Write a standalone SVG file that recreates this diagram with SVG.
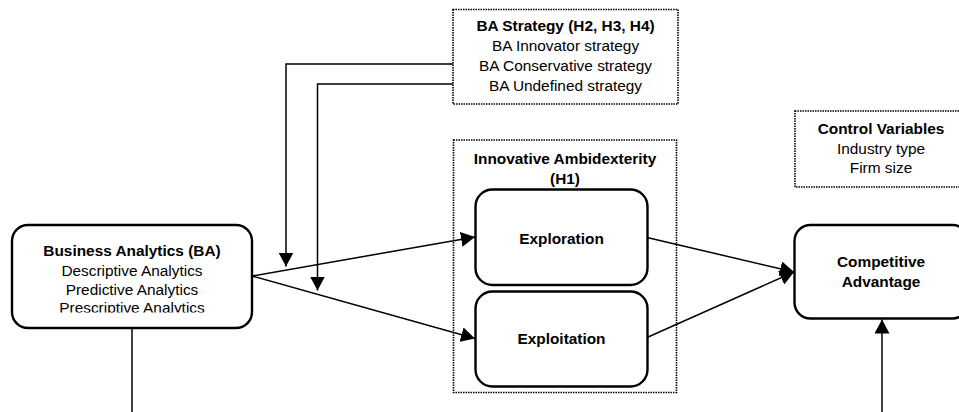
<svg xmlns="http://www.w3.org/2000/svg" width="959" height="412" viewBox="0 0 959 412">
  <style>
    text { font-family: "Liberation Sans", Arial, sans-serif; font-size: 15.4px; fill: #000; text-anchor: middle; }
    .b { font-weight: bold; }
    .node { fill: #fff; stroke: #000; stroke-width: 2.4; }
    .dot { fill: none; stroke: #000; stroke-width: 1.6; stroke-dasharray: 1.5 1; }
    .conn { fill: none; stroke: #000; stroke-width: 1.5; }
  </style>
  <defs>
    <marker id="arr" markerUnits="userSpaceOnUse" markerWidth="15" markerHeight="15" refX="14" refY="7.5" orient="auto">
      <path d="M0,0 L14,7.5 L0,15 z" fill="#000"/>
    </marker>
    <clipPath id="baclip">
      <rect x="12" y="225" width="240" height="87.5"/>
    </clipPath>
  </defs>
  <rect width="959" height="412" fill="#fff"/>

  <g id="ba-strategy">
    <rect class="dot" x="453" y="9.5" width="225" height="94.5"/>
    <text class="b" x="565.5" y="31">BA Strategy (H2, H3, H4)</text>
    <text x="565.5" y="51">BA Innovator strategy</text>
    <text x="565.5" y="71">BA Conservative strategy</text>
    <text x="565.5" y="91">BA Undefined strategy</text>
  </g>

  <g id="innovative-ambidexterity">
    <rect class="dot" x="453.5" y="140" width="223" height="252.5"/>
    <text class="b" x="565" y="164">Innovative Ambidexterity</text>
    <text class="b" x="565" y="184">(H1)</text>
  </g>

  <g id="control-variables">
    <rect class="dot" x="795" y="111" width="172" height="76"/>
    <text class="b" x="881" y="134">Control Variables</text>
    <text x="881" y="154">Industry type</text>
    <text x="881" y="173">Firm size</text>
  </g>

  <g id="connectors">
    <polyline class="conn" points="453,64 286,64 286,266.5" marker-end="url(#arr)"/>
    <polyline class="conn" points="453,84 317.5,84 317.5,290.5" marker-end="url(#arr)"/>
    <line class="conn" x1="252" y1="276" x2="475" y2="237" marker-end="url(#arr)"/>
    <line class="conn" x1="252" y1="276" x2="475" y2="338.5" marker-end="url(#arr)"/>
    <line class="conn" x1="647" y1="237.5" x2="794" y2="272" marker-end="url(#arr)"/>
    <line class="conn" x1="647" y1="337.5" x2="794" y2="272" marker-end="url(#arr)"/>
    <line class="conn" x1="132" y1="328" x2="132" y2="420"/>
    <line class="conn" x1="882" y1="420" x2="882" y2="319.5" marker-end="url(#arr)"/>
  </g>

  <g id="business-analytics">
    <rect class="node" x="12" y="225" width="240" height="103" rx="16"/>
    <g clip-path="url(#baclip)">
      <text class="b" x="132" y="256">Business Analytics (BA)</text>
      <text x="132" y="275.5">Descriptive Analytics</text>
      <text x="132" y="294.5">Predictive Analytics</text>
      <text x="132" y="313">Prescriptive Analytics</text>
    </g>
  </g>

  <g id="exploration">
    <rect class="node" x="475.5" y="189.5" width="172" height="95.5" rx="17"/>
    <text class="b" x="561.5" y="243.5">Exploration</text>
  </g>

  <g id="exploitation">
    <rect class="node" x="475.5" y="291.5" width="172" height="95" rx="17"/>
    <text class="b" x="561.5" y="344">Exploitation</text>
  </g>

  <g id="competitive-advantage">
    <rect class="node" x="794.5" y="225" width="174" height="93.5" rx="16"/>
    <text class="b" x="881" y="267">Competitive</text>
    <text class="b" x="881" y="287">Advantage</text>
  </g>
</svg>
